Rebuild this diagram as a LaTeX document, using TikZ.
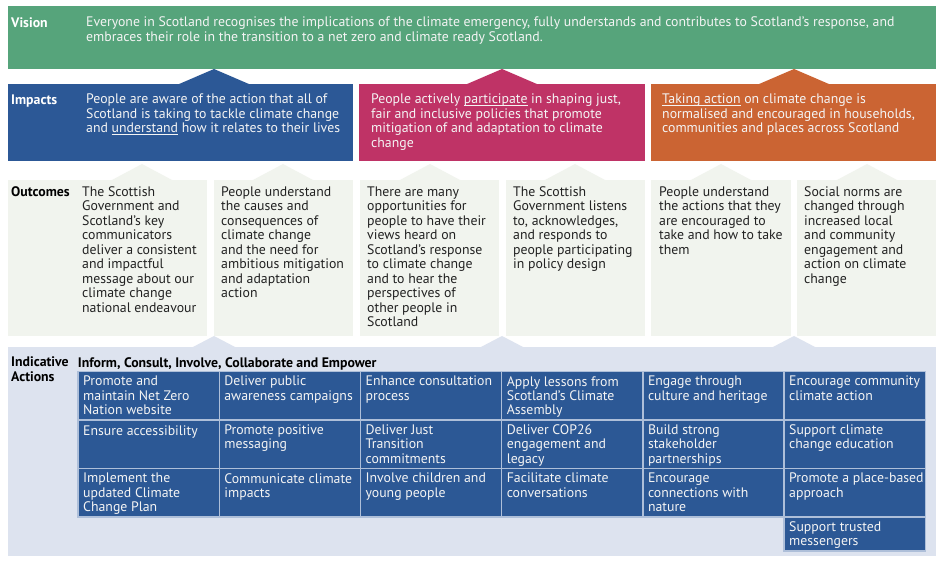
\documentclass[tikz,border=0pt]{standalone}
\usepackage{fontspec}
\setmainfont{PT Sans}
\definecolor{visgreen}{HTML}{56A47B}
\definecolor{impblue}{HTML}{2C5896}
\definecolor{imppink}{HTML}{BF3366}
\definecolor{imporange}{HTML}{CB6433}
\definecolor{outbg}{HTML}{F1F4EE}
\definecolor{actbg}{HTML}{DDE3EF}
\definecolor{cellblue}{HTML}{2C5895}
\definecolor{cellline}{HTML}{AEBFD9}
\definecolor{textdark}{HTML}{222222}
\definecolor{textlight}{HTML}{F4F4F4}
\newcommand{\mainsz}{\fontsize{13.8}{14.5}\selectfont\lineskiplimit=-20pt\relax}
\newcommand{\cellsz}{\fontsize{13.8}{14.3}\selectfont\lineskiplimit=-20pt\relax}
\newcommand{\myul}[1]{\setbox0\hbox{#1}\rlap{\rule[-1.7pt]{\wd0}{0.7pt}}\box0\relax}
\tikzset{
  txt/.style={anchor=north west, inner sep=0pt, align=left, font=\mainsz, execute at begin node={\rule{0pt}{10.5pt}}},
  wtxt/.style={txt, text=textlight},
  ktxt/.style={txt, text=textdark},
  wlbl/.style={wtxt, font=\mainsz\bfseries, text=white},
  klbl/.style={ktxt, font=\mainsz\bfseries, text=black},
  panel/.style={anchor=north west, inner sep=0pt, outer sep=0pt, draw=none},
  cell/.style={anchor=north west, fill=cellblue, draw=cellline, line width=1.4pt, minimum width=141.2pt, minimum height=48.5pt, inner sep=0pt, outer sep=0pt},
  celltxt/.style={txt, text=textlight, font=\cellsz},
}
\begin{document}
\begin{tikzpicture}[x=1pt,y=-1pt]
\useasboundingbox (0,0) rectangle (940,561);
\fill[white] (0,0) rectangle (940,561);

% ---------- Vision
\node[panel, fill=visgreen, minimum width=928pt, minimum height=63pt] (vision) at (8,6) {};
\node[wlbl] (vislbl) at (11,16.5) {Vision};
\node[wtxt] (vistxt) at (86,16.5) {Everyone in Scotland recognises the implications of the climate emergency, fully understands and contributes to Scotland’s response, and\\embraces their role in the transition to a net zero and climate ready Scotland.};

% ---------- Impacts
\fill[impblue] (178,84.5) -- (214,69) -- (250,84.5) -- cycle;
\fill[imppink] (466,84.5) -- (502,69) -- (538,84.5) -- cycle;
\fill[imporange] (758,84.5) -- (794,69) -- (830,84.5) -- cycle;
\node[panel, fill=impblue, minimum width=345pt, minimum height=77pt] (impA) at (8,84) {};
\node[panel, fill=imppink, minimum width=286pt, minimum height=77pt] (impB) at (359,84) {};
\node[panel, fill=imporange, minimum width=285pt, minimum height=77pt] (impC) at (651,84) {};
\node[wlbl] (implbl) at (11,94) {Impacts};
\node[wtxt] (impAtxt) at (86,94) {People are aware of the action that all of\\Scotland is taking to tackle climate change\\and \myul{understand} how it relates to their lives};
\node[wtxt] (impBtxt) at (371,94) {People actively \myul{participate} in shaping just,\\fair and inclusive policies that promote\\mitigation of and adaptation to climate\\change};
\node[wtxt] (impCtxt) at (662,94) {\myul{Taking action} on climate change is\\normalised and encouraged in households,\\communities and places across Scotland};

% ---------- Outcomes
\foreach \cx in {142,283,430,575,721,867}{
  \fill[outbg] (\cx-31,180.5) -- (\cx,164) -- (\cx+31,180.5) -- cycle;
}
\node[panel, fill=outbg, minimum width=199pt, minimum height=156pt] (out1) at (8,180) {};
\node[panel, fill=outbg, minimum width=139pt, minimum height=156pt] (out2) at (214,180) {};
\node[panel, fill=outbg, minimum width=139pt, minimum height=156pt] (out3) at (360,180) {};
\node[panel, fill=outbg, minimum width=139pt, minimum height=156pt] (out4) at (506,180) {};
\node[panel, fill=outbg, minimum width=140pt, minimum height=156pt] (out5) at (651,180) {};
\node[panel, fill=outbg, minimum width=139pt, minimum height=156pt] (out6) at (797,180) {};
\node[klbl] (outlbl) at (11,186.2) {Outcomes};
\node[ktxt] (out1txt) at (82,186.2) {The Scottish\\Government and\\Scotland’s key\\communicators\\deliver a consistent\\and impactful\\message about our\\climate change\\national endeavour};
\node[ktxt] (out2txt) at (221,186.2) {People understand\\the causes and\\consequences of\\climate change\\and the need for\\ambitious mitigation\\and adaptation\\action};
\node[ktxt] (out3txt) at (367,186.2) {There are many\\opportunities for\\people to have their\\views heard on\\Scotland’s response\\to climate change\\and to hear the\\perspectives of\\other people in\\Scotland};
\node[ktxt] (out4txt) at (513,186.2) {The Scottish\\Government listens\\to, acknowledges,\\and responds to\\people participating\\in policy design};
\node[ktxt] (out5txt) at (659,186.2) {People understand\\the actions that they\\are encouraged to\\take and how to take\\them};
\node[ktxt] (out6txt) at (804,186.2) {Social norms are\\changed through\\increased local\\and community\\engagement and\\action on climate\\change};

% ---------- Indicative actions
\foreach \cx in {214,502,794}{
  \fill[actbg] (\cx-22,347.5) -- (\cx,336) -- (\cx+22,347.5) -- cycle;
}
\node[panel, fill=actbg, minimum width=928pt, minimum height=209pt] (actbgbox) at (8,347) {};
\node[klbl] (actlbl) at (11,356.5) {Indicative\\Actions};
\node[klbl] (acthead) at (77.7,356.5) {Inform, Consult, Involve, Collaborate and Empower};

% row 1
\node[cell] (c11) at (78,371.5) {};
\node[cell] (c12) at (219.2,371.5) {};
\node[cell] (c13) at (360.4,371.5) {};
\node[cell] (c14) at (501.6,371.5) {};
\node[cell] (c15) at (642.8,371.5) {};
\node[cell] (c16) at (784,371.5) {};
% row 2
\node[cell] (c21) at (78,420) {};
\node[cell] (c22) at (219.2,420) {};
\node[cell] (c23) at (360.4,420) {};
\node[cell] (c24) at (501.6,420) {};
\node[cell] (c25) at (642.8,420) {};
\node[cell] (c26) at (784,420) {};
% row 3
\node[cell] (c31) at (78,468.5) {};
\node[cell] (c32) at (219.2,468.5) {};
\node[cell] (c33) at (360.4,468.5) {};
\node[cell] (c34) at (501.6,468.5) {};
\node[cell] (c35) at (642.8,468.5) {};
\node[cell] (c36) at (784,468.5) {};
% row 4
\node[cell, minimum height=34pt] (c46) at (784,517) {};

\node[celltxt] (t11) at ([shift={(5,4.5)}]c11.north west) {Promote and\\maintain Net Zero\\Nation website};
\node[celltxt] (t12) at ([shift={(5,4.5)}]c12.north west) {Deliver public\\awareness campaigns};
\node[celltxt] (t13) at ([shift={(5,4.5)}]c13.north west) {Enhance consultation\\process};
\node[celltxt] (t14) at ([shift={(5,4.5)}]c14.north west) {Apply lessons from\\Scotland’s Climate\\Assembly};
\node[celltxt] (t15) at ([shift={(5,4.5)}]c15.north west) {Engage through\\culture and heritage};
\node[celltxt] (t16) at ([shift={(5,4.5)}]c16.north west) {Encourage community\\climate action};

\node[celltxt] (t21) at ([shift={(5,4.5)}]c21.north west) {Ensure accessibility};
\node[celltxt] (t22) at ([shift={(5,4.5)}]c22.north west) {Promote positive\\messaging};
\node[celltxt] (t23) at ([shift={(5,4.5)}]c23.north west) {Deliver Just\\Transition\\commitments};
\node[celltxt] (t24) at ([shift={(5,4.5)}]c24.north west) {Deliver COP26\\engagement and\\legacy};
\node[celltxt] (t25) at ([shift={(5,4.5)}]c25.north west) {Build strong\\stakeholder\\partnerships};
\node[celltxt] (t26) at ([shift={(5,4.5)}]c26.north west) {Support climate\\change education};

\node[celltxt] (t31) at ([shift={(5,4.5)}]c31.north west) {Implement the\\updated Climate\\Change Plan};
\node[celltxt] (t32) at ([shift={(5,4.5)}]c32.north west) {Communicate climate\\impacts};
\node[celltxt] (t33) at ([shift={(5,4.5)}]c33.north west) {Involve children and\\young people};
\node[celltxt] (t34) at ([shift={(5,4.5)}]c34.north west) {Facilitate climate\\conversations};
\node[celltxt] (t35) at ([shift={(5,4.5)}]c35.north west) {Encourage\\connections with\\nature};
\node[celltxt] (t36) at ([shift={(5,4.5)}]c36.north west) {Promote a place-based\\approach};

\node[celltxt] (t46) at ([shift={(5,4.5)}]c46.north west) {Support trusted\\messengers};
\end{tikzpicture}
\end{document}
